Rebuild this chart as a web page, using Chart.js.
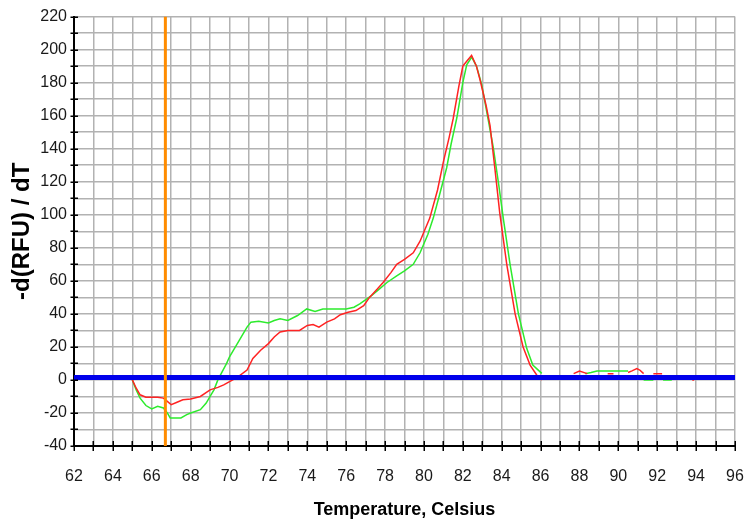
<!DOCTYPE html>
<html>
<head>
<meta charset="utf-8">
<title>Melt curve</title>
<script src="https://cdn.jsdelivr.net/npm/chart.js@4"></script>
<style>
  html, body { margin: 0; padding: 0; background: #fff; }
  #wrap { width: 744px; height: 521px; }
</style>
</head>
<body>
<div id="wrap"><canvas id="meltChart" width="744" height="521"></canvas></div>
<script>
// melt peak data (temperature in Celsius, -d(RFU)/dT)
const redTemps = [65.0, 65.2, 65.4, 65.7, 66.0, 66.3, 66.6, 66.8, 67.0, 67.3, 67.6, 68.0, 68.5, 69.0, 69.4, 69.7,
  70.0, 70.4, 70.9, 71.2, 71.6, 72.0, 72.3, 72.6, 73.0, 73.6, 74.0, 74.3, 74.6, 75.0, 75.4, 75.7,
  76.1, 76.5, 76.9, 77.2, 77.6, 77.9, 78.3, 78.6, 79.0, 79.45, 79.8, 80.3, 80.7, 81.0, 81.3, 81.5,
  81.8, 82.0, 82.2, 82.45, 82.7, 82.9, 83.2, 83.4, 83.65, 83.9, 84.26, 84.69, 85.1, 85.46, 85.8, 86.06,
  87.0, 87.7, 88.0, 88.4, 89.0, 89.45, 89.75, 90.2, 90.5, 90.7, 90.95, 91.1, 91.3, 91.6, 91.8, 92.25,
  93.0, 93.8, 93.9];
const redValues = [0, -5, -9, -10.5, -10.5, -10.5, -11, -13, -15, -13.5, -12, -11.5, -10, -6, -4.5, -3,
  -1, 1.5, 6, 13, 18, 22, 26, 29, 30, 30, 33, 33.5, 32, 35, 37, 39.5,
  41, 42, 45, 50, 55, 59, 65, 70, 73, 77, 84, 98, 115, 132, 147, 158,
  178, 190, 193, 196.5, 190, 181, 166, 154, 128, 101, 70, 40, 20, 9, 3, 0,
  null, 3.8, 5.4, 3.8, null, 3.8, 3.8, null, 4.5, 5.5, 6.9, 6, 3.8, null, 3.8, 3.8,
  null, 0, 0];

const greenTemps = [65.0, 65.2, 65.4, 65.7, 66.0, 66.3, 66.6, 66.8, 66.95, 67.5, 67.8, 68.0, 68.5, 68.8, 69.0, 69.2,
  69.4, 69.85, 70.0, 70.5, 70.9, 71.1, 71.5, 72.0, 72.3, 72.6, 73.0, 73.5, 73.97, 74.4, 74.8, 75.5,
  76.0, 76.4, 76.7, 77.3, 77.7, 78.1, 78.6, 79.0, 79.45, 79.8, 80.2, 80.48, 80.8, 81.17, 81.4, 81.69,
  82.0, 82.2, 82.46, 82.7, 82.97, 83.3, 83.57, 83.85, 84.08, 84.43, 84.86, 85.29, 85.6, 86.06,
  87.0, 88.3, 88.6, 88.9, 89.5, 90.5, 91.0, 91.3, 91.8, 92.0, 92.3, 92.75];
const greenValues = [0, -6, -11, -15.5, -17.5, -16, -17, -20, -23, -23, -21, -20, -18, -14, -10, -6,
  0, 10, 14, 24, 32, 35, 35.5, 34.5, 36, 37, 36, 39, 43, 41.5, 43, 43,
  43, 44, 46, 51, 55, 59, 63, 66, 70, 77, 88, 98, 112, 128.5, 143, 158.6,
  180, 190.8, 195.5, 190, 179, 158, 140.5, 118, 98, 70, 40, 19, 9, 4,
  null, 3.8, 4.5, 5.4, 5.4, 5.4, null, 0, 0, null, 0, 0];

// threshold line and cursor
const thresholdTemps = [62, 96];
const thresholdValues = [1.5, 1.5];
const cursorTemps = [66.7, 66.7];
const cursorValues = [-40, 220];

const xTicks = { min: 62, max: 96, step: 1, labelEvery: 2 };
const yTicks = { min: -40, max: 220, step: 10, labelEvery: 20 };

const tickFont = { family: '"Liberation Sans", Arial, sans-serif', size: 16 };

function toPoints(xs, ys) {
  return xs.map((x, i) => ({ x: x, y: ys[i] }));
}

// ticks that cross the axis lines, like the original instrument plot
const crossTicks = {
  id: 'crossTicks',
  afterDraw(chart) {
    const { ctx, chartArea, scales } = chart;
    ctx.save();
    ctx.strokeStyle = '#000';
    ctx.lineWidth = 1.5;
    ctx.beginPath();
    for (let v = yTicks.min; v <= yTicks.max; v += yTicks.step) {
      const py = Math.round(scales.y.getPixelForValue(v)) + 0.25;
      ctx.moveTo(chartArea.left - 3.5, py);
      ctx.lineTo(chartArea.left + 4, py);
    }
    for (let v = xTicks.min; v <= xTicks.max; v += xTicks.step) {
      const px = Math.round(scales.x.getPixelForValue(v)) + 0.25;
      ctx.moveTo(px, chartArea.bottom - 5);
      ctx.lineTo(px, chartArea.bottom + 5);
    }
    ctx.stroke();
    ctx.restore();
  }
};

const ctx = document.getElementById('meltChart');
new Chart(ctx, {
  type: 'line',
  data: {
    datasets: [
      {
        label: 'cursor',
        data: toPoints(cursorTemps, cursorValues),
        borderColor: 'rgb(255,140,0)',
        borderWidth: 3,
        pointRadius: 0
      },
      {
        label: 'threshold',
        data: toPoints(thresholdTemps, thresholdValues),
        borderColor: 'rgb(0,0,235)',
        borderWidth: 5,
        pointRadius: 0
      },
      {
        label: 'well A',
        data: toPoints(redTemps, redValues),
        borderColor: 'rgb(255,35,35)',
        borderWidth: 1.5,
        pointRadius: 0,
        tension: 0,
        spanGaps: false
      },
      {
        label: 'well B',
        data: toPoints(greenTemps, greenValues),
        borderColor: 'rgb(45,235,45)',
        borderWidth: 1.5,
        pointRadius: 0,
        tension: 0,
        spanGaps: false
      }
    ]
  },
  options: {
    responsive: false,
    animation: false,
    events: [],
    layout: { padding: { top: 15, right: 9, left: 0, bottom: 0 } },
    plugins: {
      legend: { display: false },
      tooltip: { enabled: false }
    },
    scales: {
      x: {
        type: 'linear',
        min: xTicks.min,
        max: xTicks.max,
        afterFit: (scale) => {
          scale.height = 75;
          // tick padding is only meant to push labels down, not in from the sides
          scale.paddingLeft = 0;
          scale.paddingRight = 0;
        },
        grid: { color: '#b2b2b2', lineWidth: 1.5, drawTicks: false },
        border: { display: true, color: '#000', width: 2 },
        ticks: {
          stepSize: xTicks.step,
          autoSkip: false,
          maxRotation: 0,
          padding: 21,
          color: '#1a1a1a',
          font: tickFont,
          callback: (v) => (v % xTicks.labelEvery === 0 ? v : '')
        },
        title: {
          display: true,
          text: 'Temperature, Celsius',
          color: '#000',
          padding: { top: 0, bottom: 0 },
          font: { family: '"Liberation Sans", Arial, sans-serif', size: 18, weight: 'bold' }
        }
      },
      y: {
        type: 'linear',
        min: yTicks.min,
        max: yTicks.max,
        afterFit: (scale) => { scale.width = 74; },
        grid: { color: '#b2b2b2', lineWidth: 1.5, drawTicks: false },
        border: { display: true, color: '#000', width: 2 },
        ticks: {
          stepSize: yTicks.step,
          autoSkip: false,
          padding: 7,
          color: '#1a1a1a',
          font: tickFont,
          callback: (v) => (v % yTicks.labelEvery === 0 ? v : '')
        },
        title: {
          display: true,
          text: '-d(RFU) / dT',
          color: '#000',
          padding: { top: 8, bottom: 0 },
          font: { family: '"Liberation Sans", Arial, sans-serif', size: 24, weight: 'bold' }
        }
      }
    }
  },
  plugins: [crossTicks]
});
</script>
</body>
</html>
